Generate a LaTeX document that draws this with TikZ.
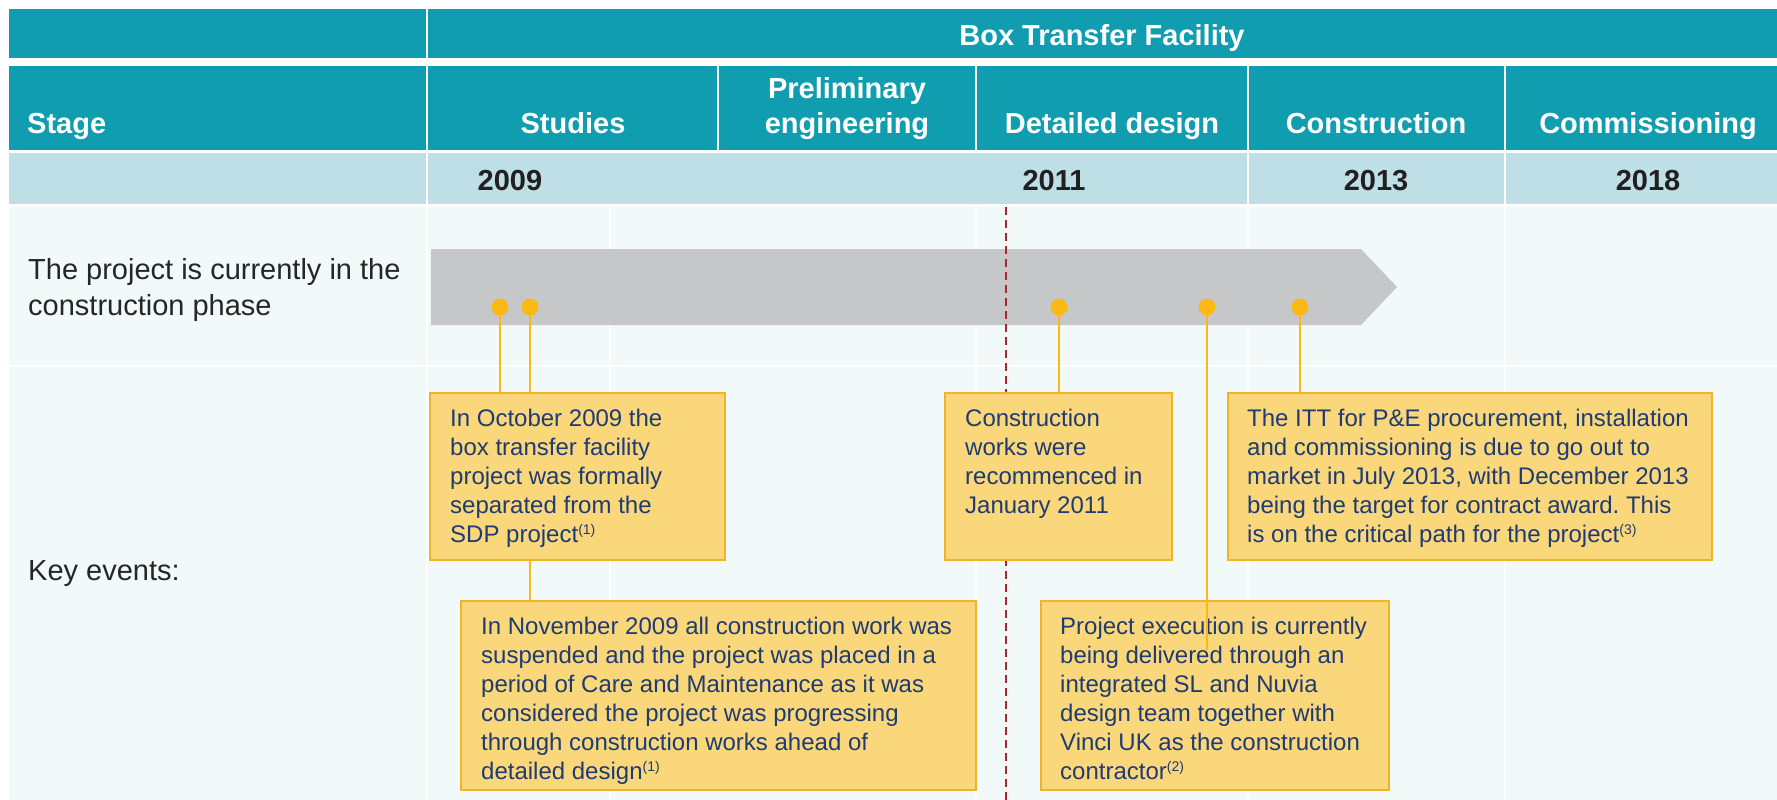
\documentclass[tikz,border=0pt]{standalone}
\usepackage{fontspec}
\setmainfont{Liberation Sans}
\usetikzlibrary{calc}
\pgfdeclarelayer{back}
\pgfdeclarelayer{conn}
\pgfsetlayers{back,conn,main}
\definecolor{hdrteal}{HTML}{109DAF}
\definecolor{yrblue}{HTML}{BEDFE5}
\definecolor{mintbg}{HTML}{F1FAF9}
\definecolor{arrowgrey}{HTML}{C6C7C9}
\definecolor{dotc}{HTML}{FDB913}
\definecolor{boxfill}{HTML}{F9D77A}
\definecolor{boxline}{HTML}{F0B429}
\definecolor{navytext}{HTML}{1F3B73}
\definecolor{reddash}{HTML}{B2212F}
\definecolor{lefttext}{HTML}{262626}
\definecolor{yeartext}{HTML}{231F20}
\newcommand{\supref}[1]{\raisebox{8pt}{\fontsize{14}{14}\selectfont(#1)}}
\frenchspacing
\begin{document}
\begin{tikzpicture}[x=1pt,y=-1pt,
  hdr/.style={text=white,font=\fontsize{29}{35}\selectfont\bfseries,inner sep=0pt},
  yr/.style={text=yeartext,font=\fontsize{29}{35}\selectfont\bfseries,anchor=base,inner sep=0pt},
  lbl/.style={text=lefttext,font=\fontsize{29}{36}\selectfont,align=left,anchor=north west,inner sep=0pt},
  evbox/.style={draw=boxline,fill=boxfill,line width=2pt,anchor=north west,inner sep=0pt,outer sep=0pt},
  evtext/.style={text=navytext,font=\fontsize{24}{29}\selectfont,align=left,anchor=north west,inner sep=0pt},
  dot/.style={circle,fill=dotc,minimum size=17pt,inner sep=0pt},
  connline/.style={draw=dotc,line width=2pt},
  gridline/.style={draw=white,line width=2.5pt},
  nowline/.style={draw=reddash,line width=1.6pt,dash pattern=on 8pt off 5pt}
]
\useasboundingbox (0,0) rectangle (1777,800);

\begin{pgfonlayer}{back}
  \fill[white] (0,0) rectangle (1777,800);
  % header bands
  \fill[hdrteal] (9,9) rectangle (1777,58);
  \fill[hdrteal] (9,66) rectangle (1777,150);
  \fill[yrblue] (9,153) rectangle (1777,204);
  \fill[mintbg] (9,207) rectangle (1777,800);
  % header separators
  \draw[gridline] (427,9) -- (427,58);
  \foreach \x in {427,718,976,1248,1505} \draw[gridline] (\x,66) -- (\x,150);
  \foreach \x in {427,1248,1505} \draw[gridline] (\x,153) -- (\x,204);
  % content grid
  \foreach \x in {427,610,976,1248,1505} \draw[gridline] (\x,207) -- (\x,800);
  \draw[gridline] (9,366) -- (1777,366);
  % progress arrow
  \fill[arrowgrey] (431,249) -- (1361,249) -- (1397,287) -- (1361,325) -- (431,325) -- cycle;
\end{pgfonlayer}

% header texts
\node[hdr,anchor=base] (title) at (1102,46) {Box Transfer Facility};
\node[hdr,anchor=base west] (stage) at (27,133) {Stage};
\node[hdr,anchor=base] (studies) at (573,133) {Studies};
\node[hdr,anchor=north,align=center] (prelim) at (847,73.5) {\strut Preliminary\\engineering};
\node[hdr,anchor=base] (detailed) at (1112,133) {Detailed design};
\node[hdr,anchor=base] (constr) at (1376,133) {Construction};
\node[hdr,anchor=base] (commis) at (1648,133) {Commissioning};

% years
\node[yr] (y2009) at (510,190) {2009};
\node[yr] (y2011) at (1054,190) {2011};
\node[yr] (y2013) at (1376,190) {2013};
\node[yr] (y2018) at (1648,190) {2018};

% row labels
\node[lbl] (phase) at (28,253.8) {\strut The project is currently in the\\construction phase};
\node[lbl] (keyev) at (28,554.8) {\strut Key events:};

% event boxes
\node[evbox,minimum width=295pt,minimum height=167pt] (b1) at (430,393) {};
\node[evbox,minimum width=227pt,minimum height=167pt] (b3) at (945,393) {};
\node[evbox,minimum width=484pt,minimum height=167pt] (b4) at (1228,393) {};
\node[evbox,minimum width=515pt,minimum height=189pt] (b2) at (461,601) {};
\node[evbox,minimum width=348pt,minimum height=189pt] (b5) at (1041,601) {};

\node[evtext] (t1) at ([xshift=20pt,yshift=-12.7pt]b1.north west)
  {\strut In October 2009 the\\box transfer facility\\project was formally\\separated from the\\SDP project\supref{1}};
\node[evtext] (t3) at ([xshift=20pt,yshift=-12.7pt]b3.north west)
  {\strut Construction\\works were\\recommenced in\\January 2011};
\node[evtext] (t4) at ([xshift=19pt,yshift=-12.7pt]b4.north west)
  {\strut The ITT for P\&E procurement, installation\\and commissioning is due to go out to\\market in July 2013, with December 2013\\being the target for contract award. This\\is on the critical path for the project\supref{3}};
\node[evtext] (t2) at ([xshift=20pt,yshift=-12.7pt]b2.north west)
  {\strut In November 2009 all construction work was\\suspended and the project was placed in a\\period of Care and Maintenance as it was\\considered the project was progressing\\through construction works ahead of\\detailed design\supref{1}};
\node[evtext] (t5) at ([xshift=19pt,yshift=-12.7pt]b5.north west)
  {\strut Project execution is currently\\being delivered through an\\integrated SL and Nuvia\\design team together with\\Vinci UK as the construction\\contractor\supref{2}};

% milestone dots
\node[dot] (d1) at (500,307) {};
\node[dot] (d2) at (530,307) {};
\node[dot] (d3) at (1059,307) {};
\node[dot] (d4) at (1207,307) {};
\node[dot] (d5) at (1300,307) {};

\coordinate (nowtop) at (1006,207);
\coordinate (nowbot) at (1006,800);
\coordinate (e4) at (1207,650);

\begin{pgfonlayer}{conn}
  \draw[nowline] (nowtop) -- (nowbot);
  \draw[connline] (d1) -- (d1 |- b1.north);
  \draw[connline] (d2) -- (d2 |- b2.north);
  \draw[connline] (d3) -- (d3 |- b3.north);
  \draw[connline] (d5) -- (d5 |- b4.north);
\end{pgfonlayer}
\draw[connline] (d4) -- (e4);
\end{tikzpicture}
\end{document}
